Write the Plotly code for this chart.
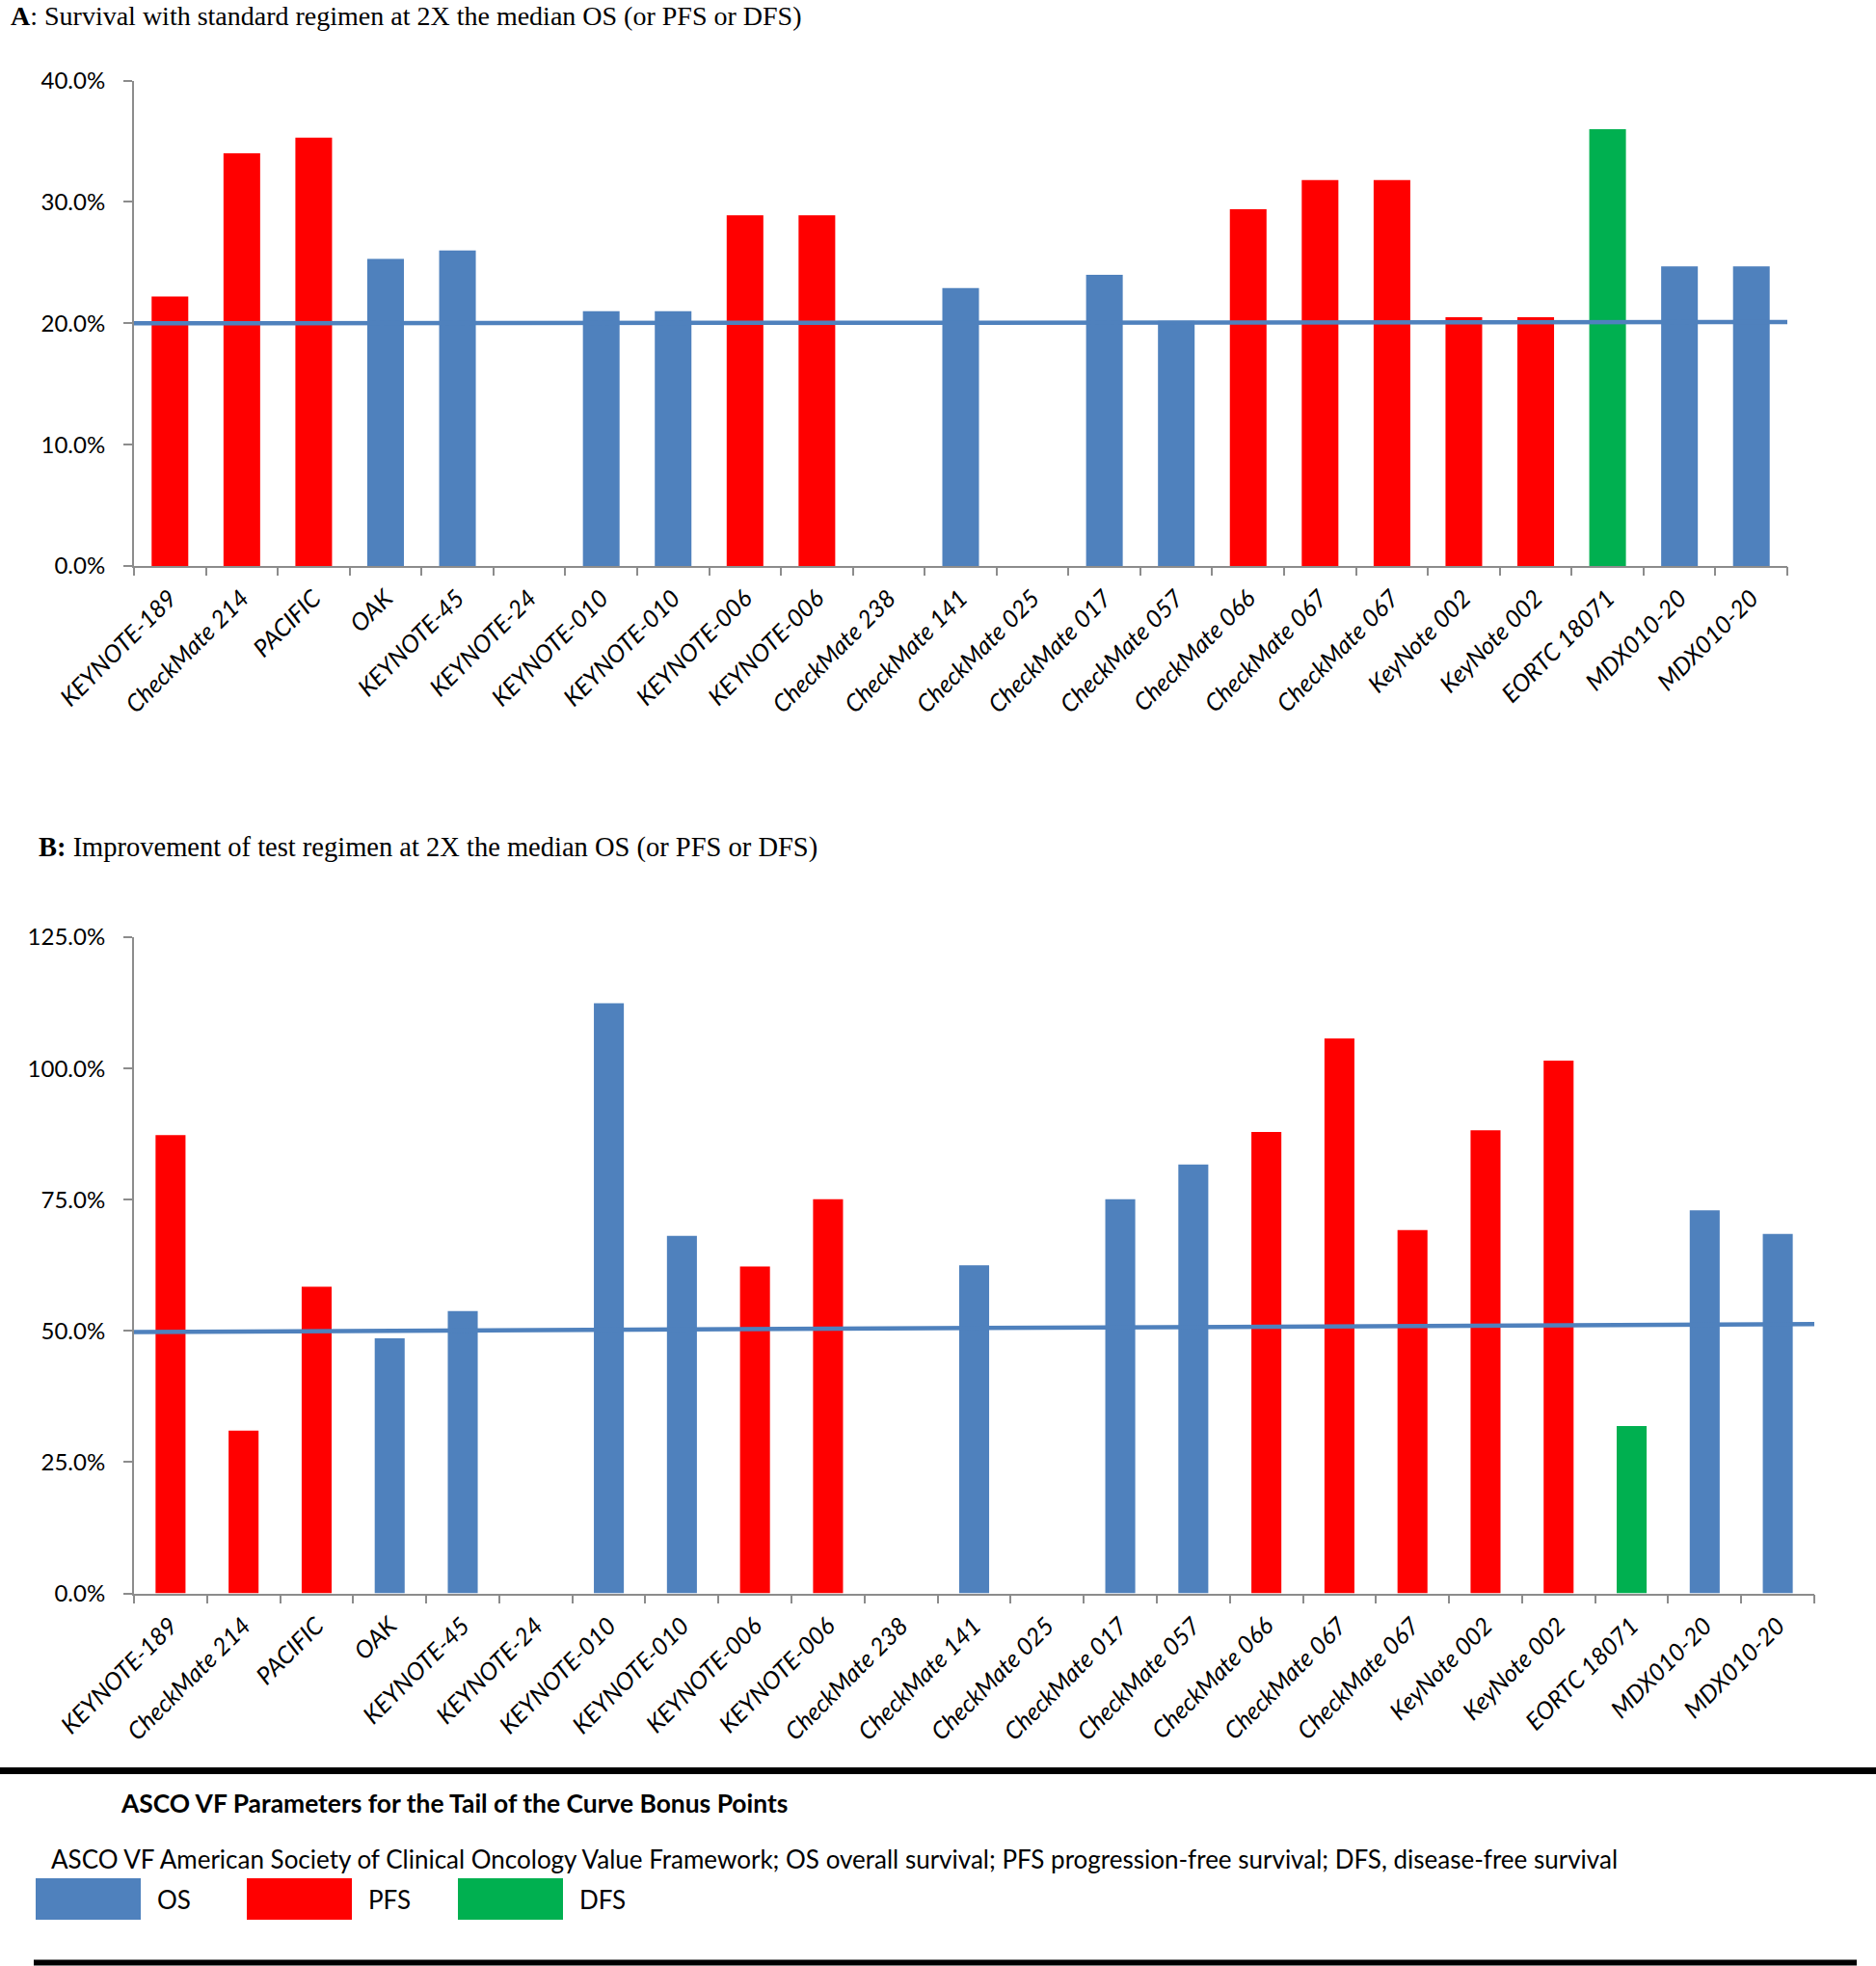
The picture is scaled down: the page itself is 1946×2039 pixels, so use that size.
import plotly.graph_objects as go

W, H = 1946, 2039

labels = ["KEYNOTE-189", "CheckMate 214", "PACIFIC", "OAK", "KEYNOTE-45", "KEYNOTE-24",
          "KEYNOTE-010", "KEYNOTE-010", "KEYNOTE-006", "KEYNOTE-006", "CheckMate 238",
          "CheckMate 141", "CheckMate 025", "CheckMate 017", "CheckMate 057", "CheckMate 066",
          "CheckMate 067", "CheckMate 067", "KeyNote 002", "KeyNote 002", "EORTC 18071",
          "MDX010-20", "MDX010-20"]

endpoint = ["PFS", "PFS", "PFS", "OS", "OS", None, "OS", "OS", "PFS", "PFS", None,
            "OS", None, "OS", "OS", "PFS", "PFS", "PFS", "PFS", "PFS", "DFS", "OS", "OS"]

survival_std = [22.2, 34.0, 35.3, 25.3, 26.0, None, 21.0, 21.0, 28.9, 28.9, None,
                22.9, None, 24.0, 20.2, 29.4, 31.8, 31.8, 20.5, 20.5, 36.0, 24.7, 24.7]

improvement = [87.3, 31.0, 58.4, 48.6, 53.8, None, 112.4, 68.1, 62.3, 75.1, None,
               62.5, None, 75.1, 81.7, 87.9, 105.7, 69.2, 88.2, 101.5, 31.9, 73.0, 68.5]

threshold_a = [20.0, 20.1]
threshold_b = [49.8, 51.3]

legend_names = ["OS", "PFS", "DFS"]
colors = {"OS": "#4F81BD", "PFS": "#FF0000", "DFS": "#00B050"}

title_a = "<b>A</b>: Survival with standard regimen at 2X the median OS (or PFS or DFS)"
title_b = "<b>B:</b> Improvement of test regimen at 2X the median OS (or PFS or DFS)"
heading = "<b>ASCO VF Parameters for the Tail of the Curve Bonus Points</b>"
footnote = ("ASCO VF American Society of Clinical Oncology Value Framework; OS overall survival; "
            "PFS progression-free survival; DFS, disease-free survival")

idx = list(range(len(labels)))
bar_colors = [colors[e] if e else "#FFFFFF" for e in endpoint]

def px_x(v):
    return v / W

def px_y(v):
    return 1 - v / H

AXC = "#8C8C8C"
SANS = "Lato"

fig = go.Figure()

# Chart A
fig.add_trace(go.Bar(x=idx, y=survival_std, marker=dict(color=bar_colors, line=dict(width=0)),
                     width=0.51, xaxis="x", yaxis="y", showlegend=False))
fig.add_trace(go.Scatter(x=[-0.5, len(labels) - 0.5], y=threshold_a, mode="lines",
                         line=dict(color="#4F81BD", width=4.5), xaxis="x3", yaxis="y",
                         showlegend=False))
# Chart B
fig.add_trace(go.Bar(x=idx, y=improvement, marker=dict(color=bar_colors, line=dict(width=0)),
                     width=0.41, xaxis="x2", yaxis="y2", showlegend=False))
fig.add_trace(go.Scatter(x=[-0.5, len(labels) - 0.5], y=threshold_b, mode="lines",
                         line=dict(color="#4F81BD", width=4.5), xaxis="x4", yaxis="y2",
                         showlegend=False))

rng = [-0.5, len(labels) - 0.5]
xlab = dict(type="linear", range=rng, tickmode="array", tickvals=idx, ticktext=labels,
            tickangle=-45, ticks="", showgrid=False, zeroline=False, showline=True,
            linecolor=AXC, linewidth=2, automargin=False, ticklabelstandoff=7,
            tickfont=dict(family=SANS, size=25, color="black", style="italic"))
xtick = dict(type="linear", range=rng, tickmode="array",
             tickvals=[i - 0.5 for i in range(len(labels) + 1)], ticks="outside",
             ticklen=9, tickwidth=2, tickcolor=AXC, showticklabels=False, showgrid=False,
             zeroline=False, showline=False, automargin=False)
ycommon = dict(showgrid=False, zeroline=False, showline=True, linecolor=AXC, linewidth=2,
               ticks="outside", ticklen=9, tickwidth=2, tickcolor=AXC, ticksuffix="%",
               tickformat=".1f", ticklabelstandoff=14, automargin=False,
               tickfont=dict(family=SANS, size=24, color="black"))

dom_a_x = [px_x(139), px_x(1854)]
dom_b_x = [px_x(139), px_x(1882)]

fig.update_layout(
    width=W, height=H, margin=dict(l=0, r=0, t=0, b=0, pad=0, autoexpand=False),
    paper_bgcolor="white", plot_bgcolor="rgba(0,0,0,0)",
    xaxis=dict(xlab, domain=dom_a_x, anchor="y"),
    xaxis3=dict(xtick, domain=dom_a_x, anchor="y", overlaying="x"),
    yaxis=dict(ycommon, domain=[px_y(587), px_y(83.6)], range=[0, 40], dtick=10, anchor="x"),
    xaxis2=dict(xlab, domain=dom_b_x, anchor="y2"),
    xaxis4=dict(xtick, domain=dom_b_x, anchor="y2", overlaying="x2"),
    yaxis2=dict(ycommon, domain=[px_y(1652.6), px_y(972)], range=[0, 125], dtick=25, anchor="x2"),
    bargap=0.4,
)

annots = [
    dict(text=title_a, x=px_x(9), y=px_y(17), xanchor="left", yanchor="middle",
         font=dict(family="Liberation Serif", size=28, color="black")),
    dict(text=title_b, x=px_x(38), y=px_y(879), xanchor="left", yanchor="middle",
         font=dict(family="Liberation Serif", size=28.5, color="black")),
    dict(text=heading, x=px_x(123), y=px_y(1870), xanchor="left", yanchor="middle",
         font=dict(family=SANS, size=26.4, color="black")),
    dict(text=footnote, x=px_x(51), y=px_y(1928), xanchor="left", yanchor="middle",
         font=dict(family=SANS, size=26, color="black")),
]
for a in annots:
    a.update(xref="paper", yref="paper", showarrow=False)

shapes = [
    dict(type="line", xref="paper", yref="paper", x0=0, x1=1, y0=px_y(1836.5), y1=px_y(1836.5),
         line=dict(color="black", width=7)),
    dict(type="line", xref="paper", yref="paper", x0=px_x(35), x1=px_x(1926),
         y0=px_y(2035.5), y1=px_y(2035.5), line=dict(color="black", width=6)),
]
sw_x = [37, 256, 475]
for name, x0 in zip(legend_names, sw_x):
    shapes.append(dict(type="rect", xref="paper", yref="paper", x0=px_x(x0), x1=px_x(x0 + 109),
                       y0=px_y(1991), y1=px_y(1948), fillcolor=colors[name],
                       line=dict(width=0)))
    annots.append(dict(text=name, x=px_x(x0 + 124), y=px_y(1970), xanchor="left",
                       yanchor="middle", xref="paper", yref="paper", showarrow=False,
                       font=dict(family=SANS, size=26, color="black")))

fig.update_layout(annotations=annots, shapes=shapes)
fig.write_html("out.html", config={"displayModeBar": False},
               post_script="document.body.style.margin='0';document.body.style.overflow='hidden';")
